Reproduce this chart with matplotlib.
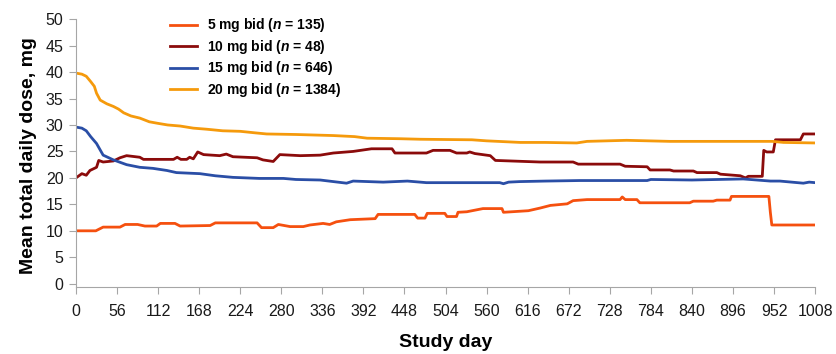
import matplotlib
matplotlib.use("Agg")
import matplotlib.pyplot as plt

plt.rcParams["font.family"] = ["Liberation Sans", "DejaVu Sans"]
plt.rcParams["mathtext.fontset"] = "custom"
plt.rcParams["mathtext.it"] = "Liberation Sans:italic:bold"
plt.rcParams["mathtext.rm"] = "Liberation Sans:bold"

# 5 mg bid
day_5 = [0, 27, 37, 60, 67, 84, 94, 110, 115, 135, 142, 183, 190, 247, 253, 269,
         276, 292, 310, 319, 337, 346, 355, 374, 408, 412, 462, 466, 476, 479,
         503, 506, 519, 521, 533, 555, 581, 583, 617, 633, 647, 670, 678, 697,
         742, 745, 749, 765, 769, 837, 842, 869, 874, 892, 894, 945, 947, 949, 1008]
dose_5 = [10.0, 10.0, 10.7, 10.7, 11.2, 11.2, 10.9, 10.9, 11.4, 11.4, 10.9, 11.0,
          11.5, 11.5, 10.6, 10.6, 11.2, 10.8, 10.8, 11.1, 11.4, 11.2, 11.7, 12.1,
          12.3, 13.1, 13.1, 12.4, 12.4, 13.3, 13.3, 12.7, 12.7, 13.5, 13.6, 14.2,
          14.2, 13.5, 13.8, 14.3, 14.8, 15.1, 15.7, 15.9, 15.9, 16.4, 15.9, 15.9,
          15.3, 15.3, 15.6, 15.6, 15.8, 15.8, 16.5, 16.5, 13.5, 11.1, 11.1]

# 10 mg bid
day_10 = [0, 8, 14, 19, 28, 31, 37, 51, 60, 69, 87, 92, 133, 138, 143, 151, 155,
          160, 166, 174, 196, 205, 214, 247, 255, 269, 278, 306, 333, 351, 378,
          403, 431, 435, 478, 487, 510, 519, 533, 537, 544, 565, 572, 633, 678,
          685, 742, 749, 779, 783, 810, 815, 842, 847, 874, 879, 906, 913, 917,
          936, 938, 942, 951, 954, 988, 992, 1008]
dose_10 = [20.0, 20.8, 20.5, 21.4, 22.0, 23.3, 23.0, 23.2, 23.8, 24.2, 23.9, 23.5,
           23.5, 23.9, 23.5, 23.5, 23.9, 23.6, 24.9, 24.4, 24.2, 24.5, 24.0, 23.8,
           23.4, 23.1, 24.4, 24.2, 24.3, 24.7, 25.0, 25.5, 25.5, 24.7, 24.7, 25.2,
           25.2, 24.7, 24.7, 24.9, 24.6, 24.2, 23.3, 23.0, 23.0, 22.6, 22.6, 22.2,
           22.1, 21.5, 21.5, 21.3, 21.3, 21.0, 21.0, 20.7, 20.4, 20.0, 20.3, 20.3,
           25.2, 24.9, 24.9, 27.2, 27.2, 28.3, 28.3]

# 15 mg bid
day_15 = [0, 8, 14, 20, 28, 37, 51, 69, 87, 105, 124, 137, 169, 190, 214, 250,
          283, 300, 333, 351, 369, 378, 419, 452, 478, 578, 583, 590, 605, 640,
          687, 779, 784, 840, 910, 947, 960, 992, 1000, 1008]
dose_15 = [29.6, 29.4, 28.9, 27.8, 26.5, 24.3, 23.4, 22.5, 22.0, 21.8, 21.4, 21.0,
           20.8, 20.4, 20.1, 19.9, 19.9, 19.7, 19.6, 19.3, 19.0, 19.4, 19.2, 19.4,
           19.1, 19.1, 18.9, 19.2, 19.3, 19.4, 19.5, 19.5, 19.7, 19.6, 19.8, 19.4,
           19.4, 19.0, 19.2, 19.1]

# 20 mg bid
day_20 = [0, 8, 14, 20, 25, 28, 33, 42, 51, 58, 65, 75, 87, 100, 112, 125, 142,
          160, 178, 200, 224, 245, 260, 300, 351, 380, 397, 442, 470, 540, 560,
          606, 640, 683, 697, 751, 810, 897, 950, 965, 1008]
dose_20 = [39.8, 39.6, 39.2, 38.2, 37.3, 36.0, 34.7, 34.0, 33.5, 33.0, 32.3, 31.7,
           31.3, 30.6, 30.3, 30.0, 29.8, 29.4, 29.2, 28.9, 28.8, 28.5, 28.3, 28.2,
           28.0, 27.8, 27.5, 27.4, 27.3, 27.2, 27.0, 26.7, 26.7, 26.6, 26.9, 27.1,
           26.9, 26.9, 26.9, 26.7, 26.6]

labels = ["5 mg bid ($n$ = 135)", "10 mg bid ($n$ = 48)",
          "15 mg bid ($n$ = 646)", "20 mg bid ($n$ = 1384)"]
colors = ["#F5500F", "#8B0B0B", "#2A4EA6", "#F59A0C"]

fig = plt.figure(figsize=(8.37, 3.54), dpi=100)
ax = fig.add_axes([0.0908, 0.188, 0.883, 0.758])

ax.plot(day_5, dose_5, color=colors[0], lw=2, label=labels[0])
ax.plot(day_10, dose_10, color=colors[1], lw=2, label=labels[1])
ax.plot(day_15, dose_15, color=colors[2], lw=2, label=labels[2])
ax.plot(day_20, dose_20, color=colors[3], lw=2, label=labels[3])

ax.set_xlim(0, 1008)
ax.set_ylim(-0.7, 50)
ax.set_xticks(range(0, 1009, 56))
ax.set_yticks(range(0, 51, 5))
for s in ["top", "right"]:
    ax.spines[s].set_visible(False)
for s in ["left", "bottom"]:
    ax.spines[s].set_color("#A6A6A6")
ax.tick_params(colors="#A6A6A6", labelcolor="#1A1A1A", labelsize=11.5, length=5)
ax.tick_params(axis="x", pad=7)
ax.tick_params(axis="y", pad=4)

ax.set_xlabel("Study day", fontsize=14, fontweight="bold")
ax.set_ylabel("Mean total daily dose, mg", fontsize=14, fontweight="bold")
ax.xaxis.set_label_coords(0.5, -0.172)
ax.yaxis.set_label_coords(-0.053, 0.49)

ax.legend(loc="upper left", bbox_to_anchor=(0.127, 1.01), frameon=False,
          handlelength=1.95, handletextpad=0.72, labelspacing=0.25,
          borderpad=0, borderaxespad=0, prop={"weight": "bold", "size": 10})

fig.savefig("out.png", dpi=100)
